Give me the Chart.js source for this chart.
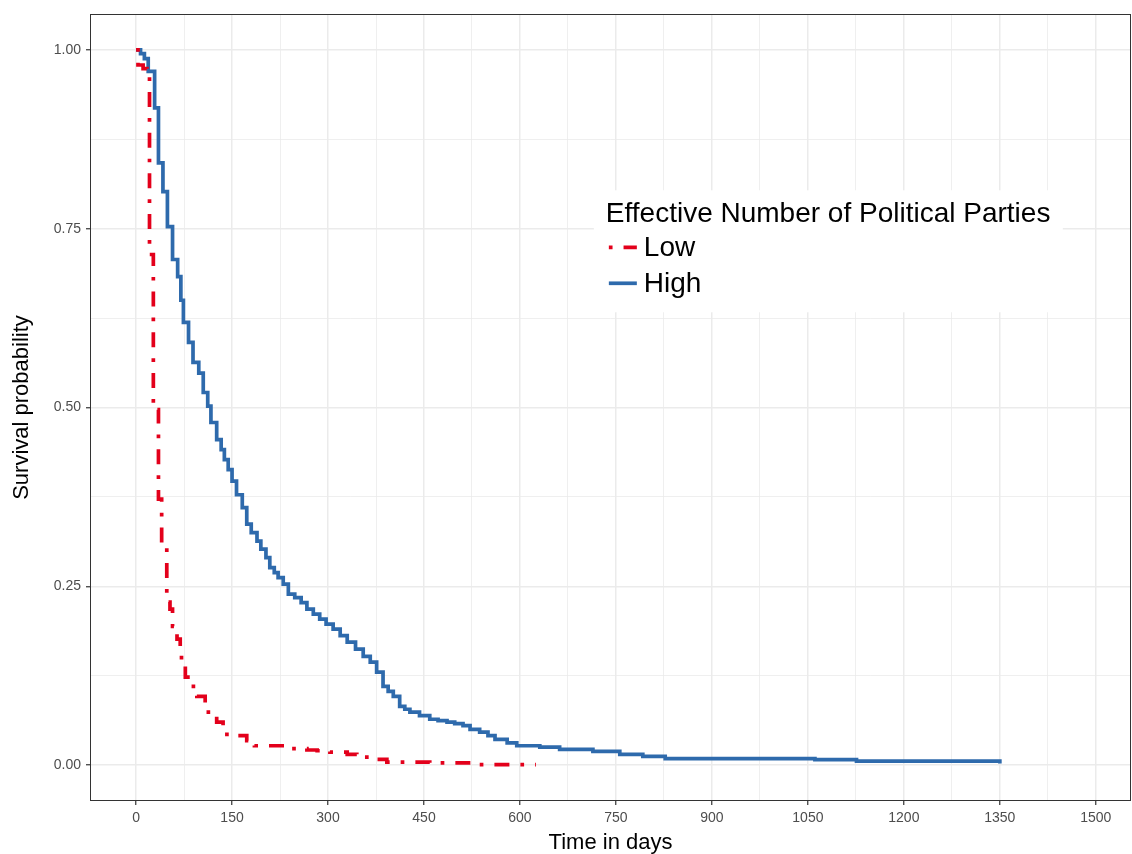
<!DOCTYPE html>
<html>
<head>
<meta charset="utf-8">
<script src="https://cdn.jsdelivr.net/npm/chart.js@4"></script>
<style>
  html, body { margin: 0; padding: 0; background: #fff; }
  #wrap { width: 1132px; height: 854px; }
</style>
</head>
<body>
<div id="wrap"><canvas id="chart" width="1132" height="854"></canvas></div>
<script>
// survival curves (time in days, survival probability)
const lowTime = [0, 3, 11, 17, 21, 27, 35, 40, 48, 53, 57, 64, 69, 71, 77, 81, 95, 108, 113, 126,
	136, 152, 173, 185, 236, 267, 283, 303, 330, 345, 366, 392, 459, 527, 625];
const lowSurv = [1, 0.979, 0.974, 0.970, 0.714, 0.497, 0.372, 0.311, 0.228, 0.218, 0.194, 0.176, 0.162, 0.141, 0.123, 0.110, 0.096, 0.078, 0.068, 0.060,
	0.043, 0.041, 0.034, 0.027, 0.023, 0.021, 0.020, 0.018, 0.015, 0.011, 0.008, 0.004, 0.003, 0.0007, 0.0007];

const highTime = [0, 7, 13, 19, 29, 35, 42, 49, 57, 65, 70, 74, 82, 89, 98, 105, 112, 117, 126, 133,
	138, 144, 150, 157, 166, 173, 180, 189, 195, 203, 209, 216, 222, 230, 238, 248, 258, 267, 277, 287,
	297, 308, 319, 330, 343, 355, 366, 376, 386, 394, 402, 412, 420, 428, 443, 459, 472, 486, 498, 511,
	522, 537, 550, 561, 580, 595, 631, 662, 714, 756, 792, 827, 1061, 1126, 1350];
const highSurv = [1, 0.995, 0.988, 0.970, 0.919, 0.842, 0.802, 0.753, 0.707, 0.683, 0.650, 0.619, 0.591, 0.563, 0.548, 0.521, 0.502, 0.479, 0.455, 0.441,
	0.427, 0.413, 0.397, 0.378, 0.360, 0.337, 0.325, 0.313, 0.302, 0.290, 0.276, 0.269, 0.262, 0.253, 0.239, 0.234, 0.227, 0.218, 0.211, 0.204,
	0.197, 0.190, 0.181, 0.172, 0.162, 0.152, 0.144, 0.130, 0.110, 0.103, 0.096, 0.082, 0.078, 0.074, 0.069, 0.064, 0.062, 0.060, 0.058, 0.055,
	0.050, 0.046, 0.041, 0.036, 0.031, 0.027, 0.025, 0.022, 0.019, 0.015, 0.012, 0.009, 0.0075, 0.0055, 0.002];

const seriesNames = ['Low', 'High'];
const legendTitle = 'Effective Number of Political Parties';

const xTicks = [0, 150, 300, 450, 600, 750, 900, 1050, 1200, 1350, 1500];
const yTicks = [0, 0.25, 0.5, 0.75, 1];

const RED = '#E3001B';
const BLUE = '#2E6AAC';
const LOW_DASH = [3.7, 11, 15, 11];
const FONT = '"Liberation Sans", Arial, sans-serif';

function withMinor(major) {
	let out = [];
	for (let i = 0; i < major.length; i++) {
		out.push(major[i]);
		if (i < major.length - 1) out.push((major[i] + major[i + 1]) / 2);
	}
	return out;
}

function isMajor(list, v) {
	return list.some(m => Math.abs(m - v) < 1e-9);
}

function toPoints(ts, ss) {
	return ts.map((t, i) => ({ x: t, y: ss[i] }));
}

const panelPlugin = {
	id: 'panelBorder',
	afterDatasetsDraw(chart) {
		const ca = chart.chartArea;
		const ctx = chart.ctx;
		ctx.save();
		ctx.strokeStyle = '#333333';
		ctx.lineWidth = 1;
		ctx.strokeRect(ca.left + 0.5, ca.top + 0.5, ca.right - ca.left - 1, ca.bottom - ca.top - 1);
		ctx.restore();
	}
};

const legendPlugin = {
	id: 'survLegend',
	afterDraw(chart) {
		const ca = chart.chartArea;
		const ctx = chart.ctx;
		const w = ca.right - ca.left;
		const h = ca.bottom - ca.top;
		const bx = ca.left + 0.484 * w;
		const by = ca.top + 0.224 * h;
		ctx.save();
		ctx.fillStyle = '#ffffff';
		ctx.fillRect(bx, by, 469, 122);

		ctx.fillStyle = '#000000';
		ctx.font = '28px ' + FONT;
		ctx.textBaseline = 'alphabetic';
		ctx.fillText(legendTitle, bx + 12, by + 32);

		const keys = [
			{ color: RED, dash: LOW_DASH },
			{ color: BLUE, dash: [] }
		];
		keys.forEach((k, i) => {
			const cy = by + 57 + i * 36;
			ctx.strokeStyle = k.color;
			ctx.lineWidth = 3.7;
			ctx.lineCap = 'butt';
			ctx.setLineDash(k.dash);
			ctx.beginPath();
			ctx.moveTo(bx + 15, cy);
			ctx.lineTo(bx + 43, cy);
			ctx.stroke();
			ctx.setLineDash([]);
			ctx.textBaseline = 'middle';
			ctx.fillText(seriesNames[i], bx + 50, cy + 1);
		});
		ctx.restore();
	}
};

const ctx = document.getElementById('chart').getContext('2d');
new Chart(ctx, {
	type: 'line',
	data: {
		datasets: [
			{
				label: seriesNames[0],
				data: toPoints(lowTime, lowSurv),
				borderColor: RED,
				borderWidth: 3.7,
				borderDash: LOW_DASH,
				borderCapStyle: 'butt',
				stepped: 'before',
				pointRadius: 0,
				fill: false
			},
			{
				label: seriesNames[1],
				data: toPoints(highTime, highSurv),
				borderColor: BLUE,
				borderWidth: 3.7,
				stepped: 'before',
				pointRadius: 0,
				fill: false
			}
		]
	},
	options: {
		responsive: false,
		animation: false,
		layout: { padding: { top: 14, right: 1, left: 0, bottom: 0 } },
		plugins: {
			legend: { display: false },
			tooltip: { enabled: false }
		},
		scales: {
			x: {
				type: 'linear',
				min: -72,
				max: 1555,
				afterBuildTicks: scale => { scale.ticks = withMinor(xTicks).map(v => ({ value: v })); },
				afterFit: scale => { scale.height = 53; },
				border: { display: false },
				grid: {
					color: '#EBEBEB',
					lineWidth: c => (c.tick && isMajor(xTicks, c.tick.value)) ? 1.5 : 0.8,
					drawTicks: true,
					tickLength: 4,
					tickWidth: 1.2,
					tickColor: c => (c.tick && isMajor(xTicks, c.tick.value)) ? '#333333' : 'rgba(0,0,0,0)'
				},
				ticks: {
					autoSkip: false,
					maxRotation: 0,
					padding: 5,
					color: '#4D4D4D',
					font: { family: FONT, size: 14 },
					callback: v => isMajor(xTicks, v) ? String(v) : ''
				},
				title: {
					display: true,
					text: 'Time in days',
					color: '#000000',
					padding: 0,
					font: { family: FONT, size: 22, lineHeight: 1 }
				}
			},
			y: {
				type: 'linear',
				min: -0.0503,
				max: 1.0503,
				afterBuildTicks: scale => { scale.ticks = withMinor(yTicks).map(v => ({ value: v })); },
				afterFit: scale => { scale.width = 90; },
				border: { display: false },
				grid: {
					color: '#EBEBEB',
					lineWidth: c => (c.tick && isMajor(yTicks, c.tick.value)) ? 1.5 : 0.8,
					drawTicks: true,
					tickLength: 4,
					tickWidth: 1.2,
					tickColor: c => (c.tick && isMajor(yTicks, c.tick.value)) ? '#333333' : 'rgba(0,0,0,0)'
				},
				ticks: {
					autoSkip: false,
					padding: 5,
					color: '#4D4D4D',
					font: { family: FONT, size: 14 },
					callback: v => isMajor(yTicks, v) ? v.toFixed(2) : ''
				},
				title: {
					display: true,
					text: 'Survival probability',
					color: '#000000',
					padding: { top: 11, bottom: 0 },
					font: { family: FONT, size: 22, lineHeight: 1 }
				}
			}
		}
	},
	plugins: [panelPlugin, legendPlugin]
});
</script>
</body>
</html>
